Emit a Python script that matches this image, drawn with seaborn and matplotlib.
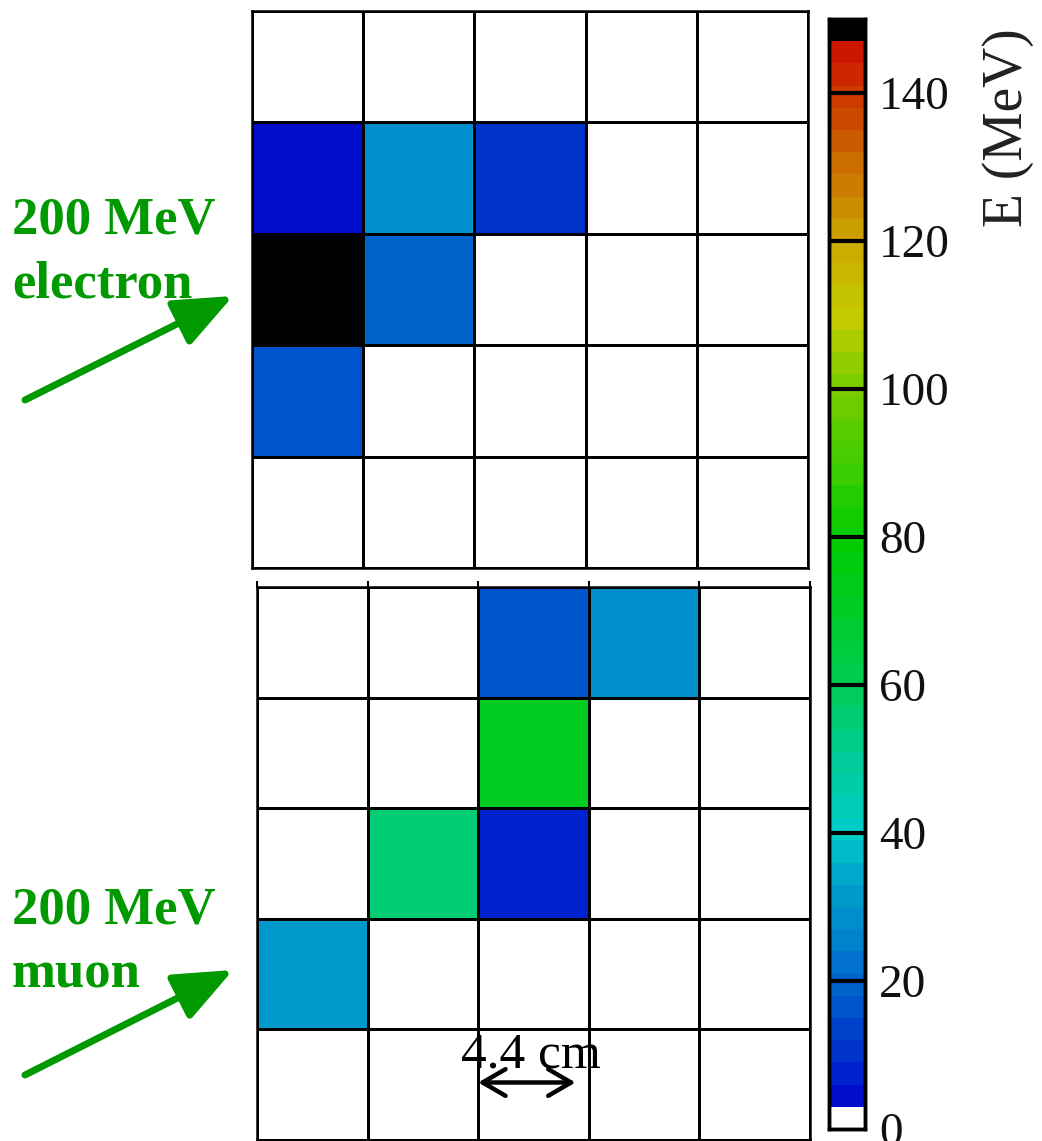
import numpy as np
import pandas as pd
import seaborn as sns
import matplotlib
matplotlib.use("Agg")
import matplotlib.pyplot as plt
from matplotlib.colors import LinearSegmentedColormap, ListedColormap
from matplotlib.patches import FancyArrowPatch

# ---------------- data ----------------
columns = [0, 1, 2, 3, 4]
rows = [0, 1, 2, 3, 4]
# energy deposits (MeV) per calorimeter cell, top row first
electron_row0 = [0, 0, 0, 0, 0]
electron_row1 = [4.5, 28, 10.5, 0, 0]
electron_row2 = [149, 19.5, 0, 0, 0]
electron_row3 = [16.5, 0, 0, 0, 0]
electron_row4 = [0, 0, 0, 0, 0]

muon_row0 = [0, 0, 16.5, 28, 0]
muon_row1 = [0, 0, 71, 0, 0]
muon_row2 = [0, 55, 7.5, 0, 0]
muon_row3 = [31.5, 0, 0, 0, 0]
muon_row4 = [0, 0, 0, 0, 0]

cbar_ticks = [0, 20, 40, 60, 80, 100, 120, 140]
e_min, e_max = 0, 150
n_levels = 50

electron = pd.DataFrame([electron_row0, electron_row1, electron_row2,
                         electron_row3, electron_row4], index=rows, columns=columns)
muon = pd.DataFrame([muon_row0, muon_row1, muon_row2, muon_row3, muon_row4],
                    index=rows, columns=columns)

# ---------------- colormap (ROOT-like discrete palette) ----------------
anchor_vals = [3, 10, 18, 26, 34, 40, 50, 60, 70, 80, 90, 100, 110, 120, 130, 140, 147]
anchor_cols = ["#0008CC", "#0030CC", "#005CCC", "#0084CC", "#00A4CC", "#00CCC8",
               "#00CC98", "#00CC55", "#00CC25", "#00CC00", "#40CC00", "#78CC00",
               "#C4CC00", "#CCA800", "#CC7000", "#CC3800", "#CC1000"]
lo, hi = anchor_vals[0], anchor_vals[-1]
grad = LinearSegmentedColormap.from_list(
    "grad", [((v - lo) / (hi - lo), c) for v, c in zip(anchor_vals, anchor_cols)])
step = (e_max - e_min) / n_levels
colors = []
for i in range(n_levels):
    centre = e_min + (i + 0.5) * step
    if i == 0:
        colors.append("#FFFFFF")
    elif i == n_levels - 1:
        colors.append("#000000")
    else:
        colors.append(grad(np.clip((centre - lo) / (hi - lo), 0, 1)))
cmap = ListedColormap(colors)

# ---------------- figure ----------------
sns.set_style("white")
plt.rcParams["font.family"] = ["Liberation Serif", "DejaVu Serif"]

W, H = 1042, 1141
fig = plt.figure(figsize=(W / 100, H / 100), dpi=100)

def px_rect(x0, y0, x1, y1):
    return [x0 / W, 1 - y1 / H, (x1 - x0) / W, (y1 - y0) / H]

ax_top = fig.add_axes(px_rect(252, 11, 808, 568))
ax_bot = fig.add_axes(px_rect(257, 587, 810, 1140))
cax = fig.add_axes(px_rect(829, 19, 865, 1129))

grid_lw = 1.8
sns.heatmap(electron, ax=ax_top, cmap=cmap, vmin=e_min, vmax=e_max,
            linewidths=grid_lw, linecolor="black", cbar=True, cbar_ax=cax,
            xticklabels=False, yticklabels=False, square=False)
sns.heatmap(muon, ax=ax_bot, cmap=cmap, vmin=e_min, vmax=e_max,
            linewidths=grid_lw, linecolor="black", cbar=False,
            xticklabels=False, yticklabels=False, square=False)

for ax in (ax_top, ax_bot):
    for s in ax.spines.values():
        s.set_visible(True)
        s.set_color("black")
        s.set_linewidth(grid_lw)
    ax.set_xlabel("")
    ax.set_ylabel("")

# small tick marks on top edge of lower panel
ax_bot.set_xticks(range(len(columns) + 1))
ax_bot.tick_params(axis="x", top=True, bottom=False, labeltop=False, labelbottom=False,
                   length=4, width=1.5, direction="out", color="black")

# colorbar styling
cax.set_yticks(cbar_ticks)
cax.set_yticklabels([str(t) for t in cbar_ticks])
cax.tick_params(axis="y", length=0, pad=10, labelsize=34, labelcolor="#111111")
for t in cbar_ticks[1:]:
    cax.axhline(t, color="black", lw=3)
for s in cax.spines.values():
    s.set_visible(True)
    s.set_linewidth(2.5)
    s.set_color("black")
try:
    ax_top.collections[0].colorbar.outline.set_linewidth(2.5)
    ax_top.collections[0].colorbar.outline.set_edgecolor("black")
except Exception:
    pass

fig.text(1008 / W, 1 - 28 / H, "E (MeV)", rotation=90, ha="center", va="top",
         fontsize=40, color="#222222")

# ---------------- annotations ----------------
green = "#009900"
for label, y in [("200 MeV", 233), ("electron", 297), ("200 MeV", 924), ("muon", 988)]:
    fig.text(12 / W, 1 - y / H, label, fontsize=38, fontweight="bold",
             color=green, va="baseline", ha="left")

for (x0, y0, x1, y1) in [(25, 400, 233, 296), (25, 1075, 233, 970)]:
    arr = FancyArrowPatch((x0 / W, 1 - y0 / H), (x1 / W, 1 - y1 / H),
                          transform=fig.transFigure,
                          arrowstyle="-|>,head_length=1.2,head_width=0.5",
                          mutation_scale=30, lw=5, color=green,
                          shrinkA=0, shrinkB=0)
    fig.add_artist(arr)

# 4.4 cm scale arrow inside the lower panel (data coordinates of the grid)
scale = FancyArrowPatch((2.0, 4.48), (2.88, 4.48),
                        arrowstyle="<->,head_length=0.55,head_width=0.32",
                        mutation_scale=30, lw=3.2, color="black",
                        shrinkA=0, shrinkB=0)
ax_bot.add_patch(scale)
ax_bot.text(2.48, 4.345, "4.4 cm", ha="center", va="baseline", fontsize=37,
            color="black")

fig.savefig("out.png", dpi=100)
